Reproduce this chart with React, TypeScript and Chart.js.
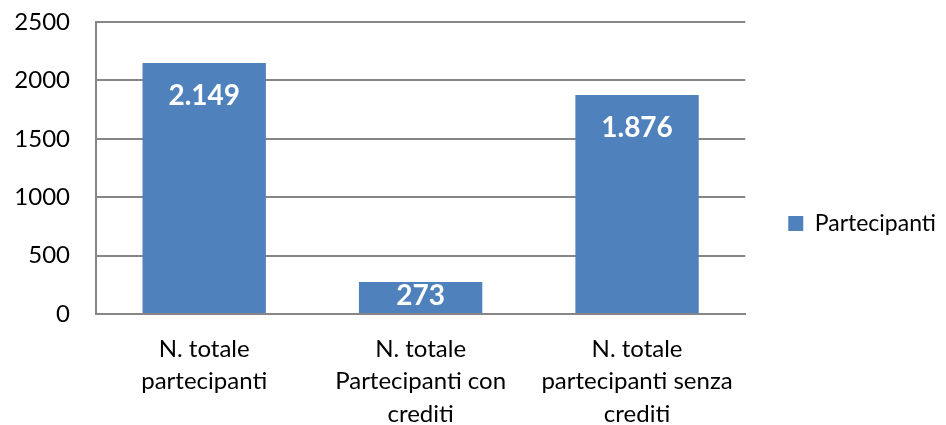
import React, { useEffect, useRef } from "react";
import { Chart, registerables } from "chart.js";

Chart.register(...registerables);

const categories: string[][] = [
  ["N. totale", "partecipanti"],
  ["N. totale", "Partecipanti con", "crediti"],
  ["N. totale", "partecipanti senza", "crediti"],
];
const seriesName = "Partecipanti";
const seriesValues: number[] = [2149, 273, 1876];
const yTicks: number[] = [0, 500, 1000, 1500, 2000, 2500];

const FONT = "Lato, 'Open Sans', sans-serif";

function fmt(v: number): string {
  return String(v).replace(/\B(?=(\d{3})+(?!\d))/g, ".");
}

const labelPlugin = {
  id: "barLabels",
  afterDatasetsDraw(chart: any) {
    const ctx = chart.ctx;
    const meta = chart.getDatasetMeta(0);
    ctx.save();
    ctx.fillStyle = "#ffffff";
    ctx.font = `bold 28px ${FONT}`;
    ctx.textAlign = "center";
    ctx.textBaseline = "middle";
    meta.data.forEach((bar: any, i: number) => {
      const v = chart.data.datasets[0].data[i];
      const top = bar.y;
      const base = bar.base;
      const cy = Math.min(top + 33, (top + base) / 2 - 2);
      ctx.fillText(fmt(v), bar.x, cy);
    });
    ctx.restore();
  },
};

export default function App() {
  const ref = useRef<HTMLCanvasElement | null>(null);
  useEffect(() => {
    if (!ref.current) return;
    const chart = new Chart(ref.current, {
      type: "bar",
      data: {
        labels: categories,
        datasets: [
          {
            label: seriesName,
            data: seriesValues,
            backgroundColor: "#4F81BD",
            borderWidth: 0,
            barPercentage: 0.57,
            categoryPercentage: 1,
          },
        ],
      },
      options: {
        animation: false,
        responsive: true,
        maintainAspectRatio: false,
        layout: { padding: { left: 0, right: 0, top: 22, bottom: 0 } },
        plugins: {
          tooltip: { enabled: false },
          legend: {
            position: "right",
            labels: {
              boxWidth: 15,
              boxHeight: 15,
              padding: 43,
              color: "#000",
              font: { family: FONT, size: 23 },
            },
          },
        },
        scales: {
          x: {
            grid: { display: false, drawTicks: false },
            border: { display: true, color: "#868686", width: 2 },
            afterFit: (scale: any) => {
              scale.height = 111;
              scale.paddingLeft = 0;
              scale.paddingRight = 0;
            },
            ticks: {
              color: "#000",
              padding: 19,
              maxRotation: 0,
              autoSkip: false,
              font: { family: FONT, size: 24, lineHeight: 1.35 },
            },
          },
          y: {
            min: 0,
            max: 2500,
            afterBuildTicks: (scale: any) => {
              scale.ticks = yTicks.map((v) => ({ value: v }));
            },
            afterFit: (scale: any) => {
              scale.width = 96;
              scale.paddingTop = 0;
              scale.paddingBottom = 0;
            },
            grid: { color: "#868686", lineWidth: 2, drawTicks: false },
            border: { display: true, color: "#868686", width: 2 },
            ticks: {
              color: "#000",
              padding: 26,
              callback: (v: any) => String(v),
              font: { family: FONT, size: 24 },
            },
          },
        },
      },
      plugins: [labelPlugin],
    });
    return () => chart.destroy();
  }, []);
  return (
    <div style={{ position: "absolute", left: 0, top: 0, width: 946, height: 425 }}>
      <canvas ref={ref} />
    </div>
  );
}
